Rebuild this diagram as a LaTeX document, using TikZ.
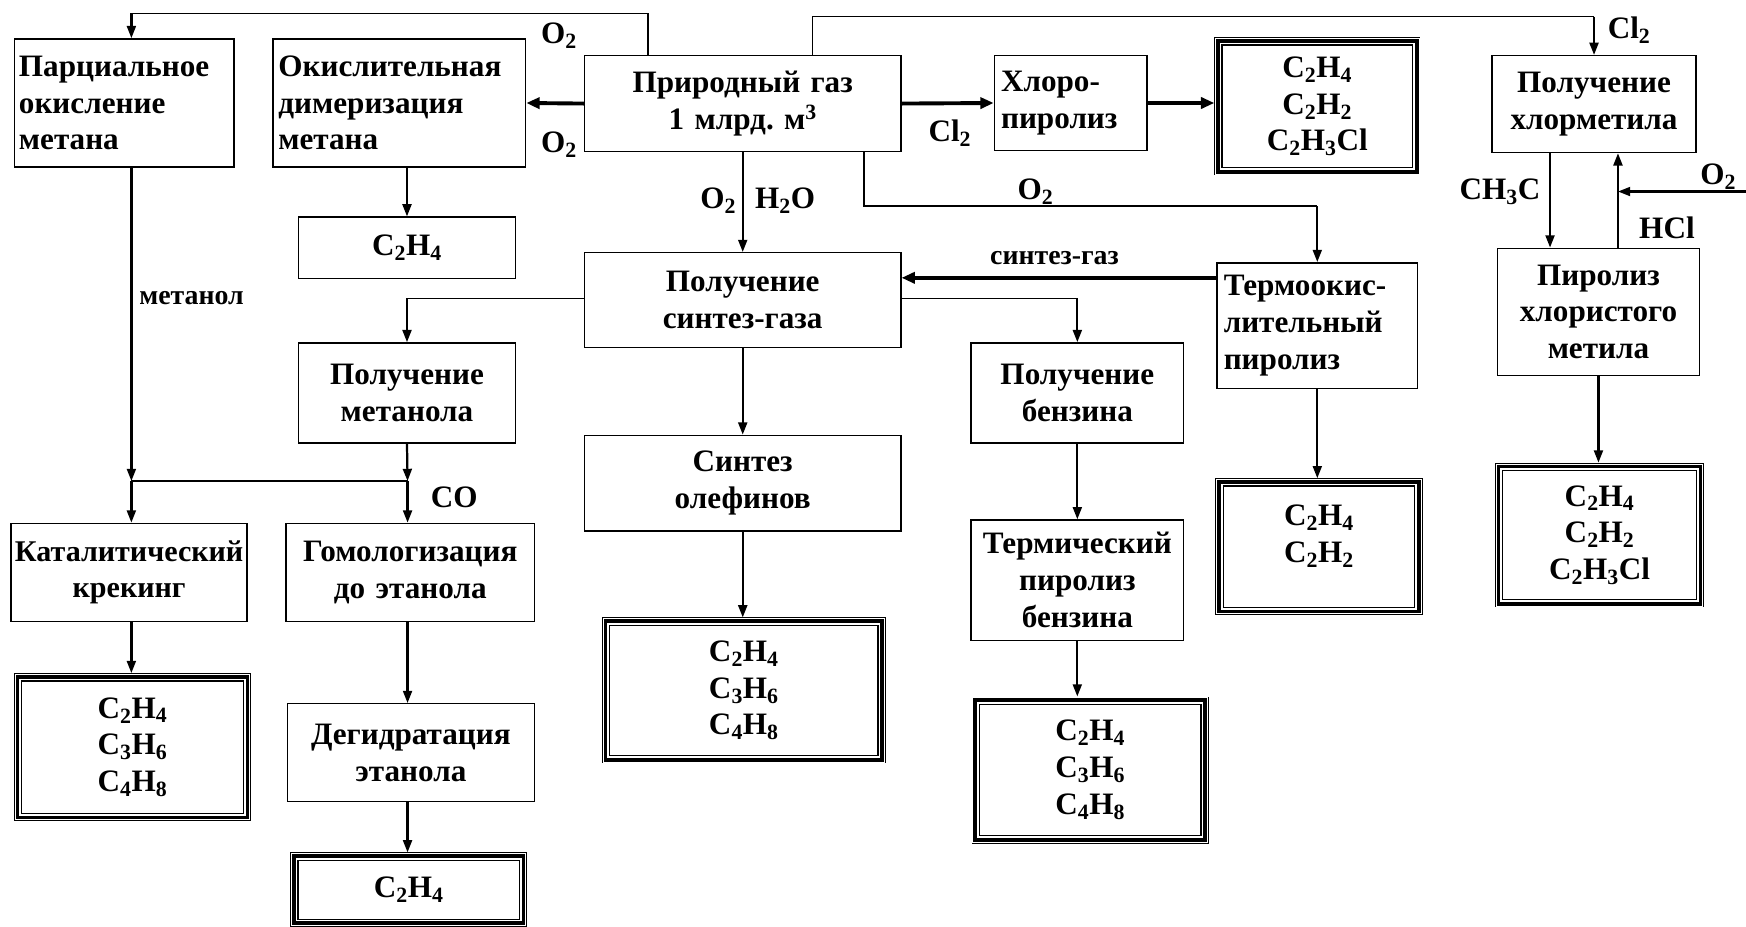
\documentclass[tikz,border=0pt]{standalone}
\usepackage{fontspec}
\setmainfont{Liberation Serif}
\usetikzlibrary{arrows.meta}
\frenchspacing
\newcommand\tribox[1]{%
  \draw[white,line width=0.8pt] ([shift={(1.2,1.2)}]#1.north west) rectangle ([shift={(-1.2,-1.2)}]#1.south east);
  \draw[line width=1.2pt] ([shift={(7,7)}]#1.north west) rectangle ([shift={(-7,-7)}]#1.south east);}
\newcommand\ch[1]{\textsubscript{#1}}
\begin{document}
\begin{tikzpicture}[x=1pt,y=-1pt,
  font=\fontsize{28}{33}\selectfont\bfseries,
  box/.style={draw,line width=1.3pt,inner xsep=6pt,inner ysep=0pt,align=center},
  lbox/.style={box,align=left},
  prod/.style={draw,line width=5pt,inner sep=0pt,align=center},
  arr/.style={line width=2pt,-{Triangle[length=11pt,width=8pt]}},
  tarr/.style={line width=3.5pt,-{Triangle[length=12pt,width=10pt]}},
  thinl/.style={line width=1.1pt},
  lab/.style={inner sep=0pt}]
\useasboundingbox (0,0) rectangle (1568,832);
% boxes
\node[lbox,text width=189pt,inner xsep=4pt,minimum height=115pt] (parc) at (111.5,92.5) {Парциальное\\окисление\\метана};
\node[lbox,text width=217pt,inner xsep=5pt,minimum height=115pt] (oxid) at (358.5,92.5) {Окислительная\\димеризация\\метана};
\node[box,text width=272pt,minimum height=86pt] (gas) at (667,93) {Природный газ\\[1pt]1 млрд. м\textsuperscript{3}};
\node[lbox,text width=125pt,minimum height=85pt] (hp) at (961.5,92.5) {Хлоро-\\пиролиз};
\node[prod,minimum width=180pt,minimum height=119pt] (p1) at (1183,95.5) {C\ch{2}H\ch{4}\\C\ch{2}H\ch{2}\\C\ch{2}H\ch{3}Cl};
\node[box,text width=171pt,minimum height=87pt] (hlm) at (1431.5,93.5) {Получение\\хлорметила};
\node[box,text width=183pt,minimum height=55pt] (c2a) at (365.5,222.5) {C\ch{2}H\ch{4}};
\node[box,text width=272pt,minimum height=85pt] (syn) at (667,269.5) {Получение\\синтез-газа};
\node[lbox,text width=168pt,minimum height=113pt] (termo) at (1183,292.5) {Термоокис-\\лительный\\пиролиз};
\node[box,text width=169pt,minimum height=114pt] (pir) at (1435.5,280) {Пиролиз\\хлористого\\метила};
\node[box,text width=183pt,minimum height=90pt] (meth) at (365.5,353) {Получение\\метанола};
\node[box,text width=179pt,minimum height=90pt] (benz) at (967.5,353) {Получение\\бензина};
\node[box,text width=272pt,minimum height=86pt] (olef) at (667,434) {Синтез\\олефинов};
\node[prod,minimum width=181pt,minimum height=118pt] (p6) at (1184.5,491) {C\ch{2}H\ch{4}\\C\ch{2}H\ch{2}\\[-20pt]\strut};
\node[prod,minimum width=183pt,minimum height=125pt] (p7) at (1436.5,480.5) {C\ch{2}H\ch{4}\\C\ch{2}H\ch{2}\\C\ch{2}H\ch{3}Cl};
\node[box,text width=206pt,inner xsep=3pt,minimum height=88pt,font=\fontsize{27}{33}\selectfont\bfseries] (kat) at (116,514) {Каталитический\\крекинг};
\node[box,text width=215pt,inner xsep=4pt,minimum height=88pt] (gom) at (368.5,514) {Гомологизация\\до этанола};
\node[box,text width=183pt,inner xsep=4pt,minimum height=108pt] (term) at (967.5,521) {Термический\\пиролиз\\бензина};
\node[prod,minimum width=250pt,minimum height=126pt] (p4) at (668,620) {C\ch{2}H\ch{4}\\C\ch{3}H\ch{6}\\C\ch{4}H\ch{8}};
\node[prod,minimum width=208pt,minimum height=128pt] (p2) at (119,671) {C\ch{2}H\ch{4}\\C\ch{3}H\ch{6}\\C\ch{4}H\ch{8}};
\node[box,text width=210pt,minimum height=88pt] (deh) at (369,676) {Дегидратация\\этанола};
\node[prod,minimum width=208pt,minimum height=127pt] (p5) at (979,691.5) {C\ch{2}H\ch{4}\\C\ch{3}H\ch{6}\\C\ch{4}H\ch{8}};
\node[prod,minimum width=208pt,minimum height=62pt] (p3) at (367,799) {C\ch{2}H\ch{4}};
\foreach \n in {p1,p2,p3,p4,p5,p6,p7} {\tribox{\n}}
% coordinates for routing
\coordinate (t1) at (582,12);
\coordinate (t2) at (730,15);
\coordinate (t3) at (776,185);
\coordinate (j1) at (118,432);
\coordinate (j2) at (366,432);
\coordinate (sl) at (525,268);
\coordinate (sr) at (809,268);
\coordinate (o2in) at (1568,172);
% connectors
\draw[thinl] (gas.north -| t1) -- (t1) -- (t1 -| j1);
\draw[arr] (t1 -| j1) -- (j1 |- parc.north);
\draw[tarr] (gas.west) -- (oxid.east);
\draw[thinl] (gas.north -| t2) -- (t2) -- (t2 -| hlm.north);
\draw[arr] (t2 -| hlm.north) -- (hlm.north);
\draw[tarr] (gas.east) -- (hp.west);
\draw[tarr] (hp.east) -- (hp.east -| p1.west);
\draw[arr] (gas.south) -- (syn.north);
\draw[thinl] (gas.south -| t3) -- (t3) -- (t3 -| termo.north);
\draw[arr] (t3 -| termo.north) -- (termo.north);
\draw[arr] (j1 |- parc.south) -- (j1);
\draw[arr] (j1) -- (j1 |- kat.north);
\draw[thinl] (j1) -- (j2);
\draw[arr] (c2a.north |- oxid.south) -- (c2a.north);
\draw[thinl] (sl) -- (sl -| meth.north);
\draw[arr] (sl -| meth.north) -- (meth.north);
\draw[thinl] (sr) -- (sr -| benz.north);
\draw[arr] (sr -| benz.north) -- (benz.north);
\draw[tarr] (termo.west |- syn.east) ++(0,-20) coordinate (sg1) (sg1) -- (sg1 -| syn.east);
\draw[arr] (syn.south) -- (olef.north);
\draw[arr] (meth.south) -- (j2);
\draw[arr] (j2) -- (j2 |- gom.north);
\draw[arr] (j1 |- kat.south) -- (j1 |- p2.north);
\draw[arr] (j2 |- gom.south) -- (j2 |- deh.north);
\draw[arr] (j2 |- deh.south) -- (j2 |- p3.north);
\draw[arr] (olef.south) -- (p4.north -| olef.south);
\draw[arr] (benz.south) -- (benz.south |- term.north);
\draw[arr] (term.south) -- (term.south |- p5.north);
\draw[arr] (termo.south) -- (termo.south |- p6.north);
\coordinate (hd) at (1392,0);
\coordinate (hu) at (1453,0);
\draw[arr] (hlm.south -| hd) -- (pir.north -| hd);
\draw[arr] (pir.north -| hu) -- (hlm.south -| hu);
\draw[arr] (o2in) -- (o2in -| hu);
\draw[arr] (pir.south) -- (pir.south |- p7.north);
% labels
\node[lab] (l1) at (502,32) {O\ch{2}};
\node[lab] (l2) at (502,130) {O\ch{2}};
\node[lab] (l3) at (1463,27) {Cl\ch{2}};
\node[lab] (l4) at (853,120) {Cl\ch{2}};
\node[lab] (l5) at (645,180) {O\ch{2}};
\node[lab] (l6) at (705,180) {H\ch{2}O};
\node[lab] (l7) at (930,172) {O\ch{2}};
\node[lab,font=\fontsize{25}{30}\selectfont\bfseries] (l8) at (947,232) {синтез-газ};
\node[lab,font=\fontsize{25}{30}\selectfont\bfseries] (l9) at (172,268) {метанол};
\node[lab] (l10) at (408,447) {CO};
\node[lab] (l11) at (1347,172) {CH\ch{3}C};
\node[lab] (l12) at (1543,159) {O\ch{2}};
\node[lab] (l13) at (1497,205) {HCl};
\end{tikzpicture}
\end{document}
